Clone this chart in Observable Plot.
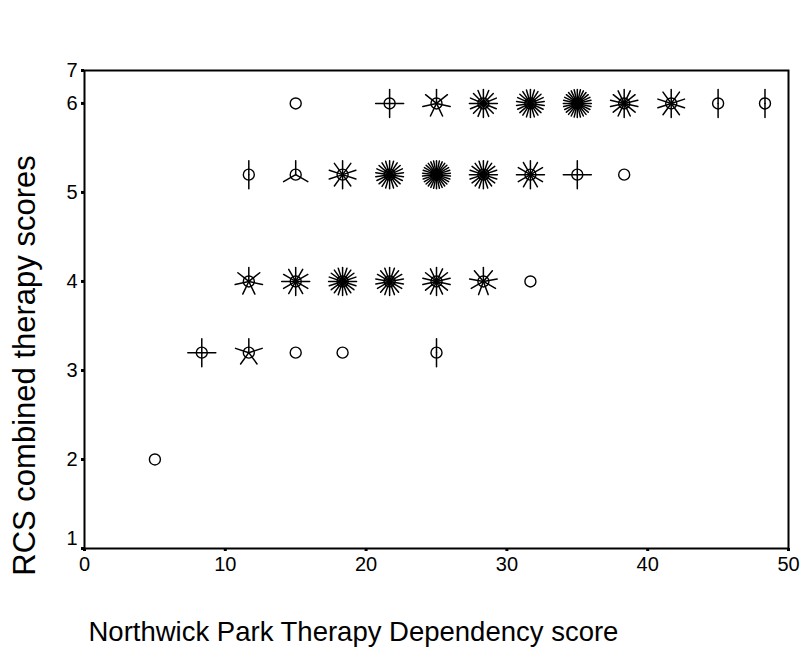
<!DOCTYPE html>
<html><head><meta charset="utf-8">
<script src="https://cdn.jsdelivr.net/npm/d3@7"></script>
<script src="https://cdn.jsdelivr.net/npm/@observablehq/plot@0.6"></script>
<style>body{margin:0;background:#fff} svg{font-family:"Liberation Sans",Arial,sans-serif}</style>
</head><body><div id="chart"></div>
<script>
// Sunflower plot: bin centre (x, y) and number of cases (petals)
const sunX = [15, 21.67, 25, 28.33, 31.67, 35, 38.33, 41.67, 45, 48.33,
              11.67, 15, 18.33, 21.67, 25, 28.33, 31.67, 35, 38.33,
              11.67, 15, 18.33, 21.67, 25, 28.33, 31.67,
              8.33, 11.67, 15, 18.33, 25,
              5];
const sunY = [6, 6, 6, 6, 6, 6, 6, 6, 6, 6,
              5.2, 5.2, 5.2, 5.2, 5.2, 5.2, 5.2, 5.2, 5.2,
              4, 4, 4, 4, 4, 4, 4,
              3.2, 3.2, 3.2, 3.2, 3.2,
              2];
const sunCount = [1, 4, 7, 16, 22, 28, 14, 10, 2, 2,
                  2, 3, 10, 22, 30, 20, 12, 4, 1,
                  7, 12, 20, 18, 14, 9, 1,
                  4, 5, 1, 1, 2,
                  1];
const xTicks = [0, 10, 20, 30, 40, 50];
// the reference prints its top label "7" at the top of the plotted range (~6.37)
const yTickValues = [1, 2, 3, 4, 5, 6, 6.37];
const yTickLabels = ["1", "2", "3", "4", "5", "6", "7"];
const xTitle = "Northwick Park Therapy Dependency score";
const yTitle = "RCS combined therapy scores";

const flowers = sunX.map((x, i) => ({x, y: sunY[i], n: sunCount[i]}));
const petals = flowers.flatMap(f => f.n < 2 ? [] :
  d3.range(f.n).map(k => ({x: f.x, y: f.y, angle: k * 360 / f.n})));
const petalShape = {draw(ctx, l) { ctx.moveTo(0, 0); ctx.lineTo(0, -l); }};
const yLabel = v => yTickLabels[yTickValues.indexOf(v)];

const chart = Plot.plot({
  width: 800, height: 654,
  marginLeft: 84, marginRight: 12, marginTop: 70, marginBottom: 106,
  x: {domain: [0, 50]},
  y: {domain: [1, 6.37]},
  marks: [
    Plot.frame({stroke: "black", strokeWidth: 2}),
    Plot.axisX(xTicks, {tickSize: 3, strokeWidth: 3, tickPadding: 5, fontSize: 20, label: null}),
    Plot.axisY(yTickValues, {tickSize: 3, strokeWidth: 3, tickFormat: () => "", label: null}),
    Plot.axisY(yTickValues.slice(1), {tickSize: 0, tickPadding: 7, fontSize: 20, tickFormat: yLabel, label: null}),
    Plot.axisY(yTickValues.slice(0, 1), {tickSize: 0, tickPadding: 7, fontSize: 20, dy: -10, tickFormat: yLabel, label: null}),
    Plot.dot(flowers, {x: "x", y: "y", r: 5.5, stroke: "black", strokeWidth: 1.4, fill: "none"}),
    Plot.vector(petals, {x: "x", y: "y", rotate: "angle", length: 14, anchor: "start",
      shape: petalShape, stroke: "black", strokeWidth: 1.5}),
    Plot.text([xTitle], {text: d => d, frameAnchor: "bottom-left", textAnchor: "start",
      lineAnchor: "middle", dx: 4, dy: 84, fontSize: 27.5, fill: "black"}),
    Plot.text([yTitle], {text: d => d, frameAnchor: "left", textAnchor: "middle",
      lineAnchor: "middle", rotate: -90, dx: -59, dy: 56, fontSize: 31, fill: "black"})
  ]
});
document.getElementById("chart").append(chart);
</script>
</body></html>
